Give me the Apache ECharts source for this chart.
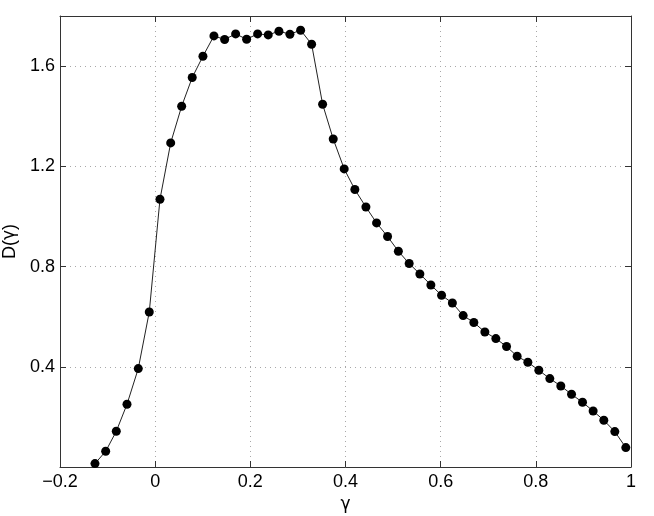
<!DOCTYPE html>
<html>
<head>
<meta charset="utf-8">
<script src="https://cdn.jsdelivr.net/npm/echarts@6/dist/echarts.min.js"></script>
<style>
html,body{margin:0;padding:0;background:#fff;}
#chart{width:654px;height:516px;}
</style>
</head>
<body>
<div id="chart"></div>
<script>
// gamma values (x)
const gammaValues = [
  -0.1265, -0.1040, -0.0817, -0.0592, -0.0355, -0.0124, 0.0101, 0.0326, 0.0557, 0.0779,
  0.1004, 0.1235, 0.1460, 0.1691, 0.1922, 0.2153, 0.2376, 0.2601, 0.2832, 0.3057,
  0.3288, 0.3519, 0.3742, 0.3973, 0.4197, 0.4429, 0.4653, 0.4884, 0.5111, 0.5338,
  0.5563, 0.5794, 0.6019, 0.6246, 0.6473, 0.6697, 0.6929, 0.7160, 0.7384, 0.7607,
  0.7832, 0.8063, 0.8294, 0.8525, 0.8750, 0.8981, 0.9204, 0.9429, 0.9660, 0.9891
];
// D(gamma) values (y)
const dValues = [
  0.0136, 0.0627, 0.1425, 0.2503, 0.3928, 0.6188, 1.0687, 1.2934, 1.4399, 1.5545,
  1.6395, 1.7206, 1.7062, 1.7285, 1.7074, 1.7285, 1.7246, 1.7393, 1.7273, 1.7433,
  1.6874, 1.4479, 1.3090, 1.1896, 1.1074, 1.0375, 0.9741, 0.9198, 0.8611, 0.8120,
  0.7705, 0.7265, 0.6854, 0.6547, 0.6044, 0.5768, 0.5389, 0.5126, 0.4810, 0.4419,
  0.4180, 0.3860, 0.3529, 0.3234, 0.2902, 0.2583, 0.2236, 0.1864, 0.1413, 0.0774
];
const xTicks = [-0.2, 0, 0.2, 0.4, 0.6, 0.8, 1];
const yTicks = [0.4, 0.8, 1.2, 1.6];
const xLabel = '{g|γ}';
const yLabel = 'D({g|γ})';

const seriesData = gammaValues.map((g, i) => [g, dValues[i]]);

const FONT = '"Liberation Sans", Arial, Helvetica, sans-serif';
const GFONT = '"DejaVu Sans", sans-serif';
const axisColor = '#333';
const gridStyle = { color: '#a8a8a8', width: 1, type: [1, 4] };
const nameStyle = {
  fontFamily: FONT, fontSize: 18, color: '#000',
  rich: { g: { fontFamily: GFONT, fontSize: 17, color: '#000' } }
};

const chart = echarts.init(document.getElementById('chart'), null, { renderer: 'canvas' });
chart.setOption({
  animation: false,
  backgroundColor: '#fff',
  grid: { left: 60, right: 23, top: 16, bottom: 49, containLabel: false, outerBoundsMode: 'none' },
  xAxis: [
    {
      type: 'value', min: xTicks[0], max: xTicks[xTicks.length - 1], interval: 0.2,
      position: 'bottom',
      name: xLabel, nameLocation: 'middle', nameGap: 22,
      nameTextStyle: nameStyle,
      axisLine: { show: true, onZero: false, lineStyle: { color: axisColor, width: 1 } },
      axisTick: { show: true, inside: true, length: 6, lineStyle: { color: axisColor } },
      axisLabel: {
        show: true, margin: 6, fontFamily: FONT, fontSize: 18, color: '#000',
        formatter: v => {
          const t = xTicks.find(k => Math.abs(k - v) < 1e-9);
          return t === undefined ? '' : String(t).replace('-', '\u2212');
        }
      },
      splitLine: { show: true, lineStyle: gridStyle }
    },
    {
      type: 'value', min: xTicks[0], max: xTicks[xTicks.length - 1], interval: 0.2,
      position: 'top',
      axisLine: { show: true, onZero: false, lineStyle: { color: axisColor, width: 1 } },
      axisTick: { show: true, inside: true, length: 6, lineStyle: { color: axisColor } },
      axisLabel: { show: false },
      splitLine: { show: false }
    }
  ],
  yAxis: [
    {
      type: 'value', min: 0, max: 1.8, interval: 0.4,
      position: 'left',
      name: yLabel, nameLocation: 'middle', nameGap: 33, nameRotate: 90,
      nameTextStyle: nameStyle,
      axisLine: { show: true, onZero: false, lineStyle: { color: axisColor, width: 1 } },
      axisTick: { show: true, inside: true, length: 6, lineStyle: { color: axisColor } },
      axisLabel: {
        show: true, margin: 5, fontFamily: FONT, fontSize: 18, color: '#000',
        showMinLabel: false, showMaxLabel: false,
        formatter: v => {
          const t = yTicks.find(k => Math.abs(k - v) < 1e-9);
          return t === undefined ? '' : t.toFixed(1);
        }
      },
      splitLine: { show: true, lineStyle: gridStyle }
    },
    {
      type: 'value', min: 0, max: 1.8, interval: 0.4,
      position: 'right',
      axisLine: { show: true, onZero: false, lineStyle: { color: axisColor, width: 1 } },
      axisTick: { show: true, inside: true, length: 6, lineStyle: { color: axisColor } },
      axisLabel: { show: false },
      splitLine: { show: false }
    }
  ],
  series: [
    {
      type: 'line',
      xAxisIndex: 0, yAxisIndex: 0,
      data: seriesData,
      symbol: 'circle', symbolSize: 9, showSymbol: true,
      lineStyle: { color: '#222', width: 1 },
      itemStyle: { color: '#000' },
      emphasis: { disabled: true },
      clip: false
    }
  ]
});
</script>
</body>
</html>
